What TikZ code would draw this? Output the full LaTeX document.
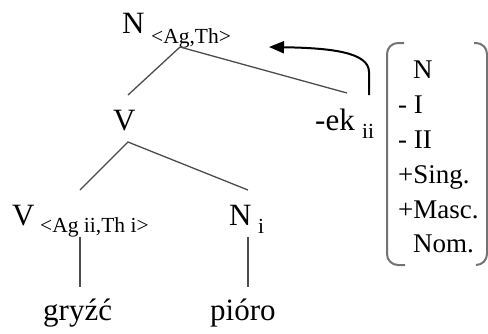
\documentclass[tikz,border=0pt]{standalone}
\usepackage{fontspec}
\setmainfont{Liberation Serif}
\usetikzlibrary{arrows.meta}
\begin{document}
\begin{tikzpicture}[x=1pt,y=-1pt,
  lbl/.style={anchor=base west,inner sep=0pt,font=\fontsize{31}{31}\selectfont},
  sub/.style={anchor=base west,inner sep=0pt,font=\fontsize{21.5}{21.5}\selectfont},
  feat/.style={anchor=base west,inner sep=0pt,font=\fontsize{27}{27}\selectfont},
  branch/.style={draw=black!70,line width=1.3pt},
  brack/.style={draw=black!55,line width=2pt,rounded corners=11pt},
  movearrow/.style={draw=black,line width=2pt,-{Triangle[length=15pt,width=12pt]}}]
\useasboundingbox (0,0) rectangle (488,333);
% tree labels
\node[lbl] (Ntop) at (122,33) {N};
\node[sub] (Ntopsub) at (151,43) {<Ag,Th>};
\node[lbl] (Vmid) at (113,130) {V};
\node[lbl] (ek) at (315,130) {-ek};
\node[sub] (eksub) at (362,138) {ii};
\node[lbl] (Vlow) at (12,225) {V};
\node[sub] (Vlowsub) at (40,232) {<Ag ii,Th i>};
\node[lbl] (Ni) at (229,225) {N};
\node[sub] (Nisub) at (258,233) {i};
\node[lbl] (gryzc) at (43,320) {gryźć};
\node[lbl] (pioro) at (210,320) {pióro};
% feature bundle
\node[feat] (f1) at (413,78) {N};
\node[feat] (f2) at (398,113) {- I};
\node[feat] (f3) at (398,148) {- II};
\node[feat] (f4) at (398,183) {+Sing.};
\node[feat] (f5) at (398,218) {+Masc.};
\node[feat] (f6) at (413,252) {Nom.};
% connector points
\coordinate (topapex) at (180,47);
\coordinate (Vmidtop) at (128,95);
\coordinate (ektop) at (347,93);
\coordinate (midapex) at (128,142);
\coordinate (Vlowtop) at (80,190);
\coordinate (Nitop) at (248,190);
\coordinate (Vlowbot) at (80,237);
\coordinate (gryzctop) at (80,287);
\coordinate (Nibot) at (248,237);
\coordinate (piorotop) at (248,287);
\coordinate (arrstart) at (369,95);
\coordinate (arrend) at (269,47);
% branches
\draw[branch] (Vmidtop) -- (topapex) -- (ektop);
\draw[branch] (Vlowtop) -- (midapex) -- (Nitop);
\draw[branch] (Vlowbot) -- (gryzctop);
\draw[branch] (Nibot) -- (piorotop);
% movement arrow
\draw[movearrow] (arrstart) -- (369,72) .. controls (369,52) and (330,48) .. (arrend);
% brackets
\draw[brack] (404,43) -- (387,43) -- (387,265) -- (405,265);
\draw[brack] (474,43) -- (487,43) -- (487,265) -- (476,265);
\end{tikzpicture}
\end{document}
